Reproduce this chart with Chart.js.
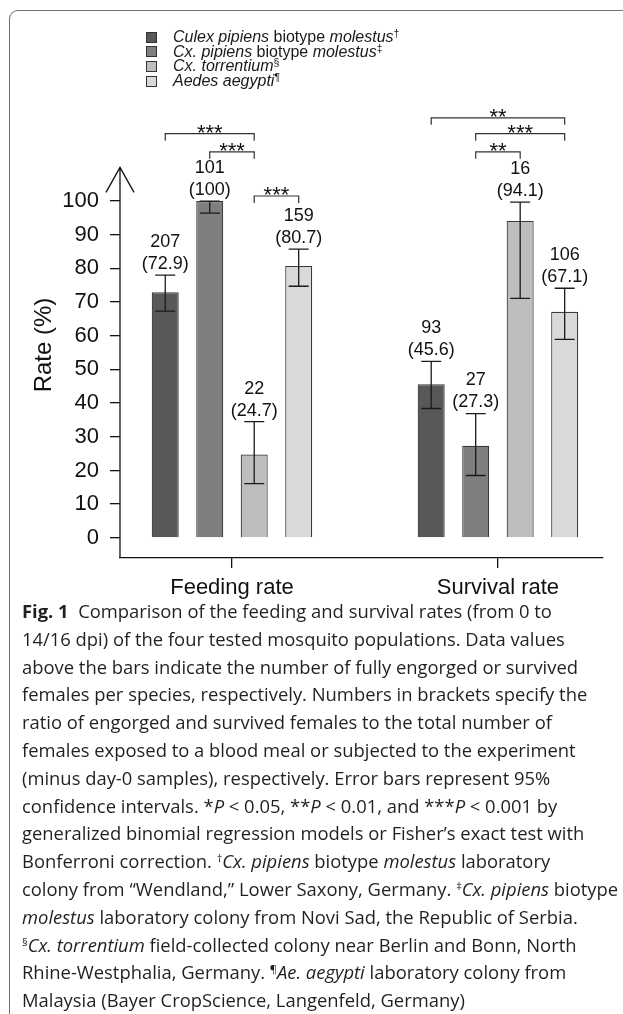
<!DOCTYPE html>
<html>
<head>
<meta charset="utf-8">
<script src="https://cdn.jsdelivr.net/npm/chart.js@4.4.0/dist/chart.umd.min.js"></script>
<style>
html, body { margin: 0; padding: 0; background: #fff; }
body { width: 623px; height: 1014px; position: relative; overflow: hidden; font-family: "Liberation Sans", Arial, sans-serif; }
#frame { position: absolute; left: 9px; top: 10px; right: -20px; bottom: -20px; border-top: 1.5px solid #707070; border-left: 1.5px solid #707070; border-top-left-radius: 9px; }
#chartBox { position: absolute; left: 0; top: 0; width: 623px; height: 605px; }
#legend { position: absolute; left: 146px; top: 30px; font-size: 16px; color: #1a1a1a; }
#legend .row { display: flex; align-items: center; height: 14.6px; white-space: nowrap; }
#legend .box { width: 9px; height: 9px; border: 1px solid #333; margin-right: 16px; }
#legend sup { font-size: 10.5px; vertical-align: 5px; line-height: 0; }
#caption { position: absolute; left: 22px; top: 597px; font-family: "Open Sans", sans-serif; font-size: 18.4px; line-height: 27.8px; color: #231f20; white-space: nowrap; }
#caption sup { font-size: 11px; vertical-align: 6px; line-height: 0; }
</style>
</head>
<body>
<div id="frame"></div>
<div id="chartBox"><canvas id="myChart"></canvas></div>
<div id="legend"></div>
<div id="caption">
<b>Fig. 1</b>&nbsp; Comparison of the feeding and survival rates (from 0 to<br>
14/16 dpi) of the four tested mosquito populations. Data values<br>
above the bars indicate the number of fully engorged or survived<br>
females per species, respectively. Numbers in brackets specify the<br>
ratio of engorged and survived females to the total number of<br>
females exposed to a blood meal or subjected to the experiment<br>
(minus day-0 samples), respectively. Error bars represent 95%<br>
confidence intervals. *<i>P</i> &lt; 0.05, **<i>P</i> &lt; 0.01, and ***<i>P</i> &lt; 0.001 by<br>
generalized binomial regression models or Fisher’s exact test with<br>
Bonferroni correction. <sup>†</sup><i>Cx. pipiens</i> biotype <i>molestus</i> laboratory<br>
colony from “Wendland,” Lower Saxony, Germany. <sup>‡</sup><i>Cx. pipiens</i> biotype<br>
<i>molestus</i> laboratory colony from Novi Sad, the Republic of Serbia.<br>
<sup>§</sup><i>Cx. torrentium</i> field-collected colony near Berlin and Bonn, North<br>
Rhine-Westphalia, Germany. <sup>¶</sup><i>Ae. aegypti</i> laboratory colony from<br>
Malaysia (Bayer CropScience, Langenfeld, Germany)
</div>
<script>
// categories and series
var categories = ["Feeding rate", "Survival rate"];
var seriesGenus = ["Culex pipiens", "Cx. pipiens", "Cx. torrentium", "Aedes aegypti"];
var seriesBiotype = ["molestus", "molestus", "", ""];
var seriesMark = ["\u2020", "\u2021", "\u00a7", "\u00b6"];
var seriesColors = ["#585858", "#7f7f7f", "#bebebe", "#d9d9d9"];

// rates (%) per series, in series order
var feedingRates = [72.9, 100, 24.7, 80.7];
var survivalRates = [45.6, 27.3, 94.1, 67.1];
// number of engorged / survived females
var feedingCounts = [207, 101, 22, 159];
var survivalCounts = [93, 27, 16, 106];
// 95% confidence intervals
var feedingLow = [67.3, 96.4, 16.1, 74.7];
var feedingHigh = [78.0, 100, 34.5, 85.7];
var survivalLow = [38.4, 18.5, 71.1, 58.9];
var survivalHigh = [52.4, 36.9, 99.7, 74.1];

// significance brackets
var bracketCategory = [0, 0, 0, 1, 1, 1];
var bracketFrom = [0, 1, 2, 0, 1, 1];
var bracketTo = [2, 2, 3, 3, 3, 2];
var bracketLevel = [120, 114.6, 101.5, 124.7, 120, 114.6];
var bracketStars = ["***", "***", "***", "**", "***", "**"];

var yTicks = [0, 10, 20, 30, 40, 50, 60, 70, 80, 90, 100];

var rates = [feedingRates, survivalRates],
    counts = [feedingCounts, survivalCounts],
    lows = [feedingLow, survivalLow],
    highs = [feedingHigh, survivalHigh];

//build datasets, one per mosquito population
var datasets = [];
for (var d = 0; d < seriesGenus.length; d++) {
    var points = [];
    for (var c = 0; c < categories.length; c++) {
        points.push({ x: c, y: rates[c][d] });
    }
    datasets.push({
        label: seriesGenus[d] + (seriesBiotype[d] ? " biotype " + seriesBiotype[d] : "") + seriesMark[d],
        data: points,
        backgroundColor: seriesColors[d],
        borderColor: "#3a3a3a",
        borderWidth: 1.2,
        categoryPercentage: 0.669,
        barPercentage: 0.607
    });
}

//html legend built from the datasets
var htmlLegend = {
    id: "htmlLegend",
    afterUpdate: function (chart) {
        var box = document.getElementById("legend");
        box.innerHTML = "";
        chart.data.datasets.forEach(function (ds, i) {
            var row = document.createElement("div");
            row.className = "row";
            var sw = document.createElement("span");
            sw.className = "box";
            sw.style.background = ds.backgroundColor;
            var txt = document.createElement("span");
            txt.innerHTML = "<i>" + seriesGenus[i] + "</i>" +
                (seriesBiotype[i] ? " biotype <i>" + seriesBiotype[i] + "</i>" : "") +
                "<sup>" + seriesMark[i] + "</sup>";
            row.appendChild(sw);
            row.appendChild(txt);
            box.appendChild(row);
        });
    }
};

//error bars, value labels, axis arrow and brackets
var decorations = {
    id: "decorations",
    afterDatasetsDraw: function (chart) {
        var ctx = chart.ctx, ys = chart.scales.y;
        ctx.save();
        ctx.strokeStyle = "#1a1a1a";
        ctx.lineWidth = 1.3;
        ctx.fillStyle = "#111";
        ctx.font = "18px 'Liberation Sans', Arial, sans-serif";
        ctx.textAlign = "center";
        ctx.textBaseline = "middle";
        for (var d = 0; d < chart.data.datasets.length; d++) {
            var meta = chart.getDatasetMeta(d);
            for (var c = 0; c < categories.length; c++) {
                var bar = meta.data[c];
                var yLo = ys.getPixelForValue(lows[c][d]);
                var yHi = ys.getPixelForValue(highs[c][d]);
                ctx.beginPath();
                ctx.moveTo(bar.x, yLo);
                ctx.lineTo(bar.x, yHi);
                ctx.moveTo(bar.x - 10, yLo);
                ctx.lineTo(bar.x + 10, yLo);
                ctx.moveTo(bar.x - 10, yHi);
                ctx.lineTo(bar.x + 10, yHi);
                ctx.stroke();
                var top = Math.min(yHi, bar.y);
                ctx.fillText(String(counts[c][d]), bar.x, top - 33);
                ctx.fillText("(" + rates[c][d] + ")", bar.x, top - 11);
            }
        }
        ctx.restore();
    },
    afterDraw: function (chart) {
        var ctx = chart.ctx, ys = chart.scales.y, area = chart.chartArea;
        ctx.save();
        ctx.strokeStyle = "#111";
        ctx.lineWidth = 1.3;
        //y axis with arrow
        var ax = area.left, tip = ys.getPixelForValue(110);
        ctx.beginPath();
        ctx.moveTo(ax, area.bottom);
        ctx.lineTo(ax, tip);
        ctx.moveTo(ax - 14, tip + 25);
        ctx.lineTo(ax, tip);
        ctx.lineTo(ax + 14, tip + 25);
        ctx.stroke();
        //brackets
        ctx.strokeStyle = "#333";
        ctx.lineWidth = 1.2;
        ctx.fillStyle = "#111";
        ctx.font = "22px 'Liberation Sans', Arial, sans-serif";
        ctx.textAlign = "center";
        ctx.textBaseline = "alphabetic";
        for (var b = 0; b < bracketStars.length; b++) {
            var xa = chart.getDatasetMeta(bracketFrom[b]).data[bracketCategory[b]].x;
            var xb = chart.getDatasetMeta(bracketTo[b]).data[bracketCategory[b]].x;
            var ly = ys.getPixelForValue(bracketLevel[b]);
            ctx.beginPath();
            ctx.moveTo(xa, ly + 7);
            ctx.lineTo(xa, ly);
            ctx.lineTo(xb, ly);
            ctx.lineTo(xb, ly + 7);
            ctx.stroke();
            ctx.fillText(bracketStars[b], (xa + xb) / 2, ly + 6);
        }
        ctx.restore();
    }
};

var ctx1 = document.getElementById("myChart");
var myChart = new Chart(ctx1, {
    type: "bar",
    data: { datasets: datasets },
    options: {
        responsive: true,
        maintainAspectRatio: false,
        animation: false,
        layout: { padding: { top: 132, right: 20, left: 0, bottom: 0 } },
        plugins: { legend: { display: false }, tooltip: { enabled: false } },
        scales: {
            x: {
                type: "linear",
                min: -0.421,
                max: 1.395,
                offset: false,
                afterBuildTicks: function (s) { s.ticks = categories.map(function (c, i) { return { value: i }; }); },
                afterFit: function (s) { s.height = 47; },
                ticks: {
                    callback: function (v) { return categories[v]; },
                    font: { size: 22, family: "'Liberation Sans', Arial, sans-serif" },
                    color: "#111",
                    padding: 7,
                    maxRotation: 0
                },
                grid: { offset: false, drawOnChartArea: false, drawTicks: true, tickLength: 10, color: "#111", lineWidth: 1.3 },
                border: { display: true, color: "#111", width: 1.3 }
            },
            y: {
                min: -6,
                max: 120.5,
                afterBuildTicks: function (s) { s.ticks = yTicks.map(function (v) { return { value: v }; }); },
                afterFit: function (s) { s.width = 120; },
                ticks: {
                    font: { size: 22, family: "'Liberation Sans', Arial, sans-serif" },
                    color: "#111",
                    padding: 11
                },
                grid: { drawOnChartArea: false, drawTicks: true, tickLength: 10, color: "#111", lineWidth: 1.3 },
                border: { display: false },
                title: {
                    display: true,
                    text: "Rate (%)",
                    font: { size: 24, family: "'Liberation Sans', Arial, sans-serif" },
                    color: "#111",
                    padding: { top: 30, bottom: 0 }
                }
            }
        }
    },
    plugins: [htmlLegend, decorations]
});
</script>
</body>
</html>
